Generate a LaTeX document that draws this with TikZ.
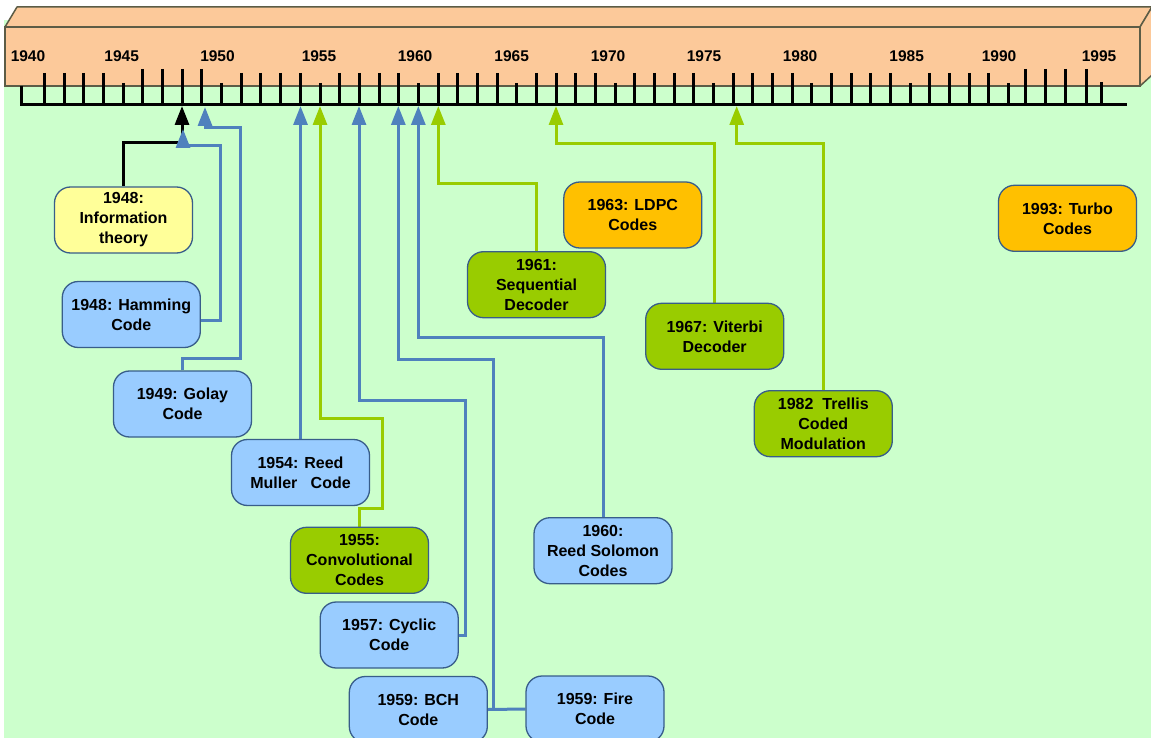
\documentclass[tikz,border=0pt]{standalone}
\usepackage{fontspec}
\setmainfont{Liberation Sans}
\usetikzlibrary{arrows.meta}
\definecolor{bggreen}{HTML}{CCFFCC}
\definecolor{barfill}{HTML}{FCC99A}
\definecolor{barline}{HTML}{5C5C46}
\definecolor{blueline}{HTML}{4F81BD}
\definecolor{greenline}{HTML}{99CC00}
\definecolor{bluefill}{HTML}{99CCFF}
\definecolor{greenfill}{HTML}{99CC00}
\definecolor{yellowfill}{HTML}{FFFF99}
\definecolor{orangefill}{HTML}{FFC000}
\definecolor{boxborder}{HTML}{385D8A}
\pgfdeclarelayer{front}
\pgfsetlayers{main,front}
\begin{document}
\begin{tikzpicture}[x=1pt,y=-1pt,
  box/.style={draw=boxborder, line width=1.3pt, rounded corners=16pt,
    minimum width=138pt, minimum height=66pt, inner sep=0pt, align=center,
    font=\bfseries\fontsize{16}{20}\selectfont},
  bluebox/.style={box, fill=bluefill},
  greenbox/.style={box, fill=greenfill},
  yellowbox/.style={box, fill=yellowfill},
  orangebox/.style={box, fill=orangefill},
  conn/.style={line width=3pt, -{Triangle[length=19pt,width=14pt]}},
  bconn/.style={conn, draw=blueline},
  gconn/.style={conn, draw=greenline},
  kconn/.style={conn, draw=black},
  tickmark/.style={line width=3pt, draw=black},
  yearlab/.style={anchor=base, inner sep=0pt, font=\bfseries\fontsize{15.5}{18}\selectfont}
]
\clip (0,0) rectangle (1151,738);
\fill[white] (0,0) rectangle (1151,738);
\fill[bggreen] (4,20) rectangle (1151,738);
% 3D bar
\filldraw[fill=barfill, draw=barline, line width=1.5pt, line join=round]
  (5,27) -- (17,7) -- (1152,7) -- (1140,27) -- cycle;
\filldraw[fill=barfill, draw=barline, line width=1.5pt, line join=round]
  (1140,27) -- (1152,7) -- (1152,75) -- (1140,86) -- cycle;
\filldraw[fill=barfill, draw=barline, line width=1.5pt]
  (5,27) rectangle (1140,86);
% year labels
\foreach \yr/\lx in {1940/28,1945/121.7,1950/217.5,1955/319,1960/415,1965/511.7,
  1970/608,1975/704,1980/800,1985/906.7,1990/999,1995/1099}
  \node[yearlab] (lab\yr) at (\lx,62) {\yr};
% ticks
\foreach \yr in {1941,...,1990}{
  \pgfmathsetmacro\tx{123.3+(\yr-1945)*19.67}
  \pgfmathsetmacro\tt{mod(\yr,5)==0 ? 83 : ((\yr>1945 && \yr<1950) ? 69 : 73)}
  \draw[tickmark] (\tx,\tt) -- (\tx,105);
}
\foreach \tx in {1025.7,1045.7,1065.3,1086.7}
  \draw[tickmark] (\tx,69) -- (\tx,105);
\draw[tickmark] (1101.7,82) -- (1101.7,105);
\draw[line width=3pt, line join=miter] (21,86) -- (21,105) -- (1127,105);
% arrow targets
\coordinate (t1948) at (182,106);
\coordinate (t1948h) at (183,129);
\coordinate (t1949) at (205,107);
\coordinate (t1954) at (300.5,106);
\coordinate (t1955) at (320,106);
\coordinate (t1957) at (359,106);
\coordinate (t1959) at (398.3,106);
\coordinate (t1960) at (418.3,106);
\coordinate (t1961) at (438.3,106);
\coordinate (t1967) at (556,106);
\coordinate (t1976) at (736.7,106);
% boxes (front layer)
\begin{pgfonlayer}{front}
\node[yellowbox] (info) at (123.5,220) {1948:\\Information\\theory};
\node[bluebox] (hamming) at (131.3,314.5) {1948: Hamming\\Code};
\node[bluebox] (golay) at (182.5,404) {1949: Golay\\Code};
\node[bluebox] (rm) at (300.5,472.5) {1954: Reed\\Muller\ \ \ Code};
\node[greenbox] (conv) at (359.5,560.3) {1955:\\Convolutional\\Codes};
\node[bluebox] (cyclic) at (389.2,635) {1957: Cyclic\\Code};
\node[bluebox] (bch) at (418.3,709.5) {1959: BCH\\Code};
\node[bluebox] (fire) at (595,709) {1959: Fire\\Code};
\node[bluebox] (rs) at (603,550.7) {1960:\\Reed Solomon\\Codes};
\node[greenbox] (seq) at (536.5,284.7) {1961:\\Sequential\\Decoder};
\node[orangebox] (ldpc) at (632.8,215) {1963: LDPC\\Codes};
\node[greenbox] (vit) at (714.7,336.3) {1967: Viterbi\\Decoder};
\node[greenbox] (trel) at (823.3,423.7) {1982\ \ Trellis\\Coded\\Modulation};
\node[orangebox] (turbo) at (1067.5,218.3) {1993: Turbo\\Codes};
\end{pgfonlayer}
% connectors
\draw[kconn] (info.north) |- (182,143) -- (t1948);
\draw[bconn] ([yshift=-5.5pt]hamming.east) -| (220,146) -| (t1948h);
\draw[bconn] (golay.north) |- (240.7,358) -- (240.7,128) -| (t1949);
\draw[bconn] (rm.north) -- (t1954);
\draw[gconn] (conv.north) |- (382.3,508.3) -- (382.3,418.3) -| (t1955);
\draw[bconn] (cyclic.east) -| (465,400) -| (t1957);
\draw[line width=3pt, draw=blueline] (fire.west) -- (bch.east);
\draw[bconn] (bch.east) -| (493.3,359.5) -| (t1959);
\draw[bconn] (rs.north) |- (418.3,337.3) -- (t1960);
\draw[gconn] (seq.north) |- (438.3,183.3) -- (t1961);
\draw[gconn] (vit.north) |- (556,143.3) -- (t1967);
\draw[gconn] (trel.north) |- (736.7,143.3) -- (t1976);
\end{tikzpicture}
\end{document}
